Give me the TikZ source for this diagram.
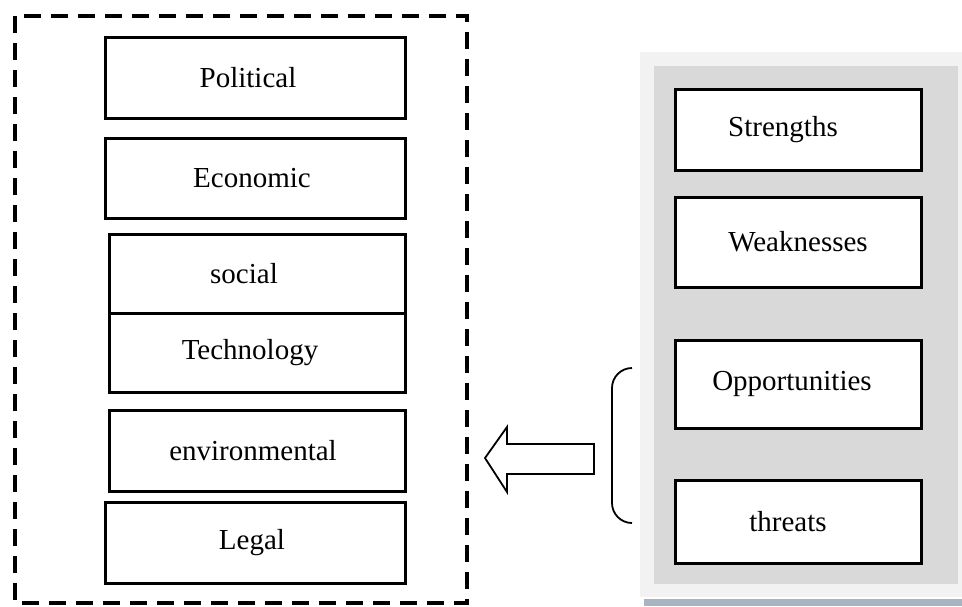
\documentclass[tikz,border=0pt]{standalone}
\usepackage{fontspec}
\setmainfont{Liberation Serif}
\usepackage{tikz}

\definecolor{paneout}{HTML}{F2F2F2}
\definecolor{panein}{HTML}{D9D9D9}
\definecolor{panebar}{HTML}{A9B4C2}

\begin{document}
\begin{tikzpicture}[x=0.5pt,y=-0.5pt,
    lbl/.style={font=\fontsize{14.5}{17}\selectfont},
    factor/.style={lbl,draw,fill=white,line width=1.5pt,inner sep=0pt},
    swot/.style={factor,minimum width=123pt}]
          \useasboundingbox (0,0) rectangle (962,606);
          %\draw[very thin,lightgray] (0,0) grid[step=50] (962,606);
          % PESTEL frame
          \draw[line width=2pt,dash pattern=on 8.5pt off 5pt] (15,16) rectangle (467,603);
          \node[factor,minimum width=150pt,minimum height=40.5pt] (pol) at (255,77.5) {Political\kern7pt};
          \node[factor,minimum width=150pt,minimum height=40pt] (eco) at (255,178) {Economic\kern3pt};
          \node[factor,minimum width=148pt,minimum height=39.5pt] (soc) at (257,273.5) {social\kern13pt};
          \node[factor,minimum width=148pt,minimum height=39.5pt] (tec) at (257,352.5) {Technology\kern7pt};
          \node[factor,minimum width=148pt,minimum height=40.5pt] (env) at (257,450.5) {environmental\kern4pt};
          \node[factor,minimum width=150pt,minimum height=40.5pt] (leg) at (255,542.5) {Legal\kern3pt};
          % SWOT panel
          \fill[paneout] (640,52) rectangle (962,597);
          \fill[panein] (654,66) rectangle (958,584);
          \fill[panebar] (644,599) rectangle (962,606);
          \node[swot,minimum height=40.5pt] (str) at (798,129.5) {Strengths\kern15pt};
          \node[swot,minimum height=45pt] (wea) at (798,242) {Weaknesses};
          \node[swot,minimum height=44pt] (opp) at (798,384) {Opportunities\kern6pt};
          \node[swot,minimum height=41.5pt] (thr) at (798,521.5) {threats\kern10pt};
          % bracket and block arrow
          \draw[line width=0.9pt,rounded corners=10pt] (632,368) -- (612,368) -- (612,523) -- (632,523);
          \draw[line width=0.9pt] (485,458) -- (507,427) -- (507,444) -- (594,444)
            -- (594,474) -- (507,474) -- (507,492) -- cycle;
        \end{tikzpicture}
\end{document}
